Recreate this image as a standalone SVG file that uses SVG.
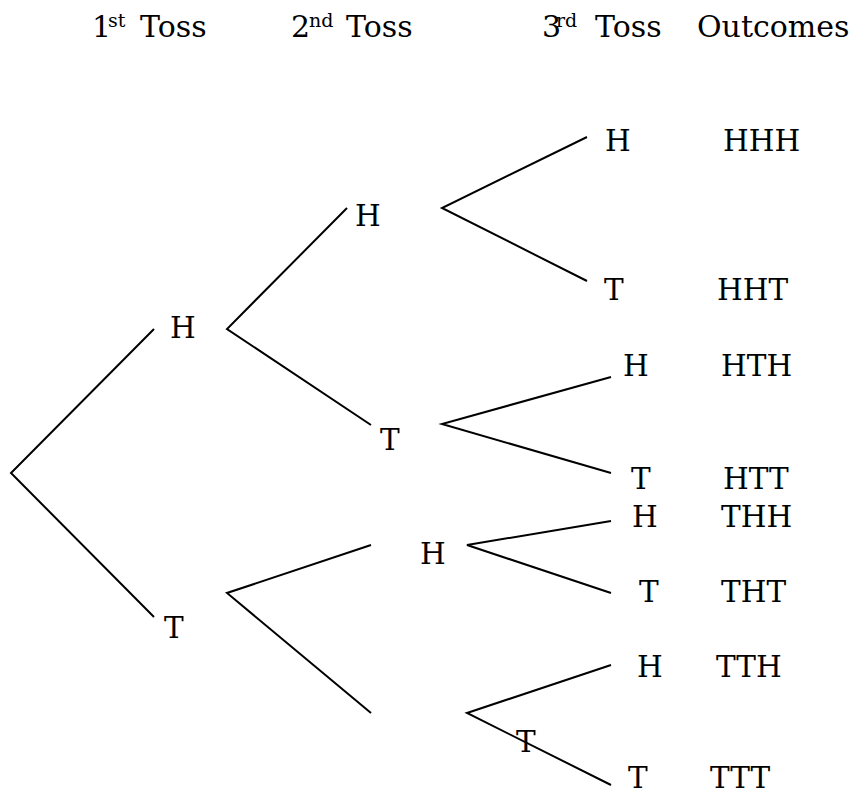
<svg xmlns="http://www.w3.org/2000/svg" width="856" height="791" viewBox="0 0 856 791">
<style>
text{font-family:"DejaVu Serif","Liberation Serif",serif;font-size:29.5px;fill:#000}
.hd{font-size:30px}
.sup{font-size:19px}
.edge{fill:none;stroke:#000;stroke-width:2;stroke-linejoin:miter}
</style>
<rect width="856" height="791" fill="#fff"/>
<g id="headers">
<text class="hd" x="92" y="37">1<tspan class="sup" x="108" y="27">st</tspan><tspan x="140" y="37">Toss</tspan></text>
<text class="hd" x="291" y="37">2<tspan class="sup" x="309" y="27">nd</tspan><tspan x="346" y="37">Toss</tspan></text>
<text class="hd" x="542" y="37">3<tspan class="sup" x="556" y="27">rd</tspan><tspan x="595" y="37">Toss</tspan></text>
<text class="hd" x="697" y="37">Outcomes</text>
</g>
<g id="connectors">
<polyline class="edge" points="154,329 11,473 154,617"/>
<polyline class="edge" points="347,208 227,329 371,425"/>
<polyline class="edge" points="371,545 227,593 371,713"/>
<polyline class="edge" points="587,137 442,208 587,281"/>
<polyline class="edge" points="611,377 442,424 611,473"/>
<polyline class="edge" points="611,521 467,545 611,593"/>
<polyline class="edge" points="611,665 467,713 611,785"/>
</g>
<g id="n-H"><text x="170" y="338">H</text></g>
<g id="n-T"><text x="164" y="638">T</text></g>
<g id="n-HH"><text x="355" y="226">H</text></g>
<g id="n-HT"><text x="380" y="450">T</text></g>
<g id="n-TH"><text x="420" y="564">H</text></g>
<g id="n-TT"><text x="516" y="752">T</text></g>
<g id="n-HHH"><text x="605" y="151">H</text><text x="723" y="151">HHH</text></g>
<g id="n-HHT"><text x="604" y="300">T</text><text x="717" y="300">HHT</text></g>
<g id="n-HTH"><text x="623" y="376">H</text><text x="721" y="376">HTH</text></g>
<g id="n-HTT"><text x="631" y="489">T</text><text x="723" y="489">HTT</text></g>
<g id="n-THH"><text x="632" y="527">H</text><text x="721" y="527">THH</text></g>
<g id="n-THT"><text x="639" y="602">T</text><text x="721" y="602">THT</text></g>
<g id="n-TTH"><text x="637" y="677">H</text><text x="716" y="677">TTH</text></g>
<g id="n-TTT"><text x="628" y="788">T</text><text x="710" y="788">TTT</text></g>
</svg>
